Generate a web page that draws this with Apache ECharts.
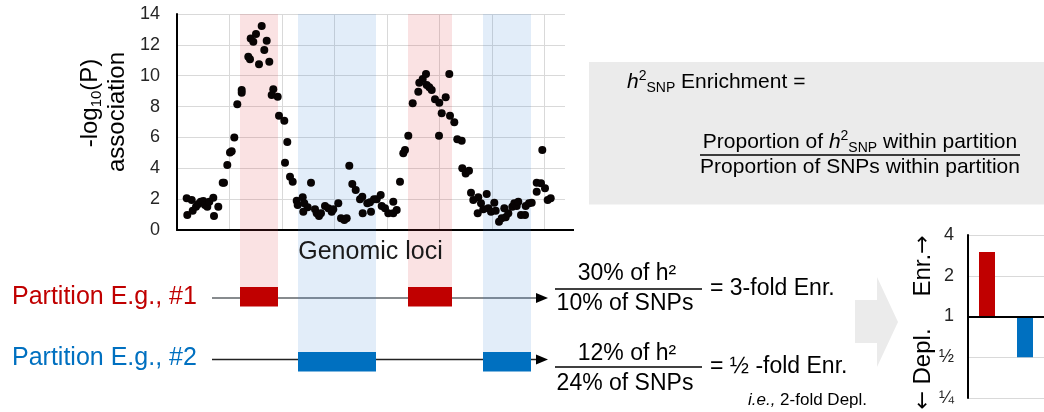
<!DOCTYPE html>
<html><head><meta charset="utf-8">
<script src="https://cdn.jsdelivr.net/npm/echarts@6/dist/echarts.min.js"></script>
<style>html,body{margin:0;padding:0;background:#fff}#c{width:1044px;height:412px}</style>
</head><body><div id="c"></div>
<script>
const FONT = "'Liberation Sans', Arial, Helvetica, sans-serif";
const ARROW_FONT = "'DejaVu Sans', sans-serif";

// ---- scatter data: locus position (arbitrary units) and -log10(P)
const locusX = [9.7,10.3,14.7,15.7,19,21.3,23.7,26.3,28,30.3,
32.3,36.3,37,41.3,45.7,47,50.3,53,54.7,57.3,
60.3,64.7,64.7,71.3,73,73.7,76.3,79,82,84.7,
87.3,89.7,92.3,96.3,94.7,100.7,102,107.3,110.3,108,
113,115.7,119.7,120.7,125.7,127.3,126.3,130.7,134,138,
139.7,142,144,148,151.3,154.7,156.3,161.3,164,167.3,
169.7,172.3,175.3,178.7,183,185.3,185.7,190.3,193,194,
197,199.7,203.7,204.7,208,211.3,216.3,216.3,219.7,223,
226.3,228,231.3,235.7,241.3,242.3,245.7,249,249.7,252.3,
254.7,258,262.3,262,264.7,268.7,272.3,273,277.3,280.3,
284.7,285.3,288.7,292,294,296.3,301.3,300.7,304,
306.3,309.7,311.3,314,317.3,318.7,322,324.7,327.3,328.7,
331.3,335.3,337.3,339.7,341.3,344,348,348.7,352,354.7,
359.7,359.7,364,365.3,368,370.7,373.7];
const negLogP = [2.05,0.97,1.94,1.25,1.51,1.68,1.83,1.88,1.62,1.51,
1.83,2.09,0.91,1.51,3.07,3.07,4.21,5.03,5.1,6.0,
8.15,9.07,8.9,11.23,11.06,12.42,12.2,12.7,10.74,13.22,
11.67,12.27,10.91,9.12,8.75,8.64,7.41,7.08,5.7,4.36,
3.45,3.13,1.9,1.62,2.12,1.73,1.19,1.47,3.07,1.34,
1.08,0.91,1.08,1.56,1.41,1.19,1.34,1.73,0.76,0.65,
0.76,4.17,2.98,2.59,1.99,2.16,1.08,1.73,1.8,1.19,
1.99,2.0,2.27,1.56,1.41,1.08,1.83,1.08,1.3,3.13,
4.97,5.18,6.11,8.21,8.96,9.55,9.79,10.11,9.4,9.25,
9.07,8.47,8.25,6.11,7.56,8.6,10.11,7.41,6.98,5.88,
5.79,4.0,3.67,3.84,2.42,1.94,2.12,1.08,1.73,
1.34,2.33,1.41,1.19,1.77,1.25,0.54,0.76,1.41,0.82,
1.08,1.51,1.73,1.56,1.83,0.97,0.97,1.56,1.73,1.77,
3.07,2.48,3.03,5.18,2.7,1.94,2.05];
const yTickInterval = 2;
const yMax = 14;
const locusMax = 388;
const locusGridStep = 52.5;

// ---- partitions (regions along the loci axis)
const partition1Regions = [[63,101],[231,275]];
const partition2Regions = [[121,199],[306,354]];
const partitionNames = ['Partition E.g., #1','Partition E.g., #2'];

// ---- enrichment bar chart
const enrichmentCategories = ['#1','#2'];
const enrichmentValues = [3, 0.5];
const enrichmentTickLabels = {'-2':'¼','-1':'½','0':'1','1':'2','2':'4'};

// ---- styles
const partitionColors = ['#c00000','#0070c0'];
const bandColors = ['rgba(220,60,70,0.15)','rgba(50,130,210,0.14)'];
const ROW_TOP = [287, 352];
const ROW_H = 19.5;

const scatterData = locusX.map((x,i)=>[x, negLogP[i]]);
const regionData = [];
partition1Regions.forEach(r=>regionData.push([r[0], r[1], 0]));
partition2Regions.forEach(r=>regionData.push([r[0], r[1], 1]));

function txt(x, y, text, o) {
  o = o || {};
  return {
    type:'text', x:x, y:y, rotation:o.rotation||0, z:10, silent:true,
    style: Object.assign({
      text:text, fontFamily:FONT, fontSize:o.fontSize||23, fill:o.fill||'#000',
      align:o.align||'left', verticalAlign:'middle'
    }, o.style||{})
  };
}
function hline(x1, x2, y, color, w) {
  return {type:'line', z:10, silent:true, shape:{x1:x1,y1:y,x2:x2,y2:y}, style:{stroke:color||'#000', lineWidth:w||1.5}};
}
function arrowHead(tipX, y) {
  return {type:'polygon', z:10, silent:true, shape:{points:[[tipX-12,y-5],[tipX,y],[tipX-12,y+5]]}, style:{fill:'#000'}};
}

const fracRich = {
  i:{fontStyle:'italic', fontSize:21, lineHeight:26, fontFamily:FONT},
  n:{fontSize:21, lineHeight:26, fontFamily:FONT},
  sup:{fontSize:14, lineHeight:20, verticalAlign:'top', fontFamily:FONT},
  sub:{fontSize:14, lineHeight:14, verticalAlign:'bottom', fontFamily:FONT}
};

const graphics = [
  // partition track lines (under the rectangles)
  {type:'line', z:1, silent:true, shape:{x1:212,y1:298,x2:540,y2:298}, style:{stroke:'#5f6468', lineWidth:1.5}},
  {type:'line', z:1, silent:true, shape:{x1:212,y1:359.5,x2:540,y2:359.5}, style:{stroke:'#222', lineWidth:1.5}},
  arrowHead(548, 298),
  arrowHead(548, 359.5),
  // small overshoot of the loci axis line
  hline(564, 574, 230, '#000', 2),
  // y title
  txt(90, 103, '{n|-log}{sub|10}{n|(P)}', {rotation:Math.PI/2, align:'center', style:{rich:{
    n:{fontSize:24, lineHeight:28, fontFamily:FONT, fill:'#000'},
    sub:{fontSize:15, lineHeight:15, verticalAlign:'bottom', fontFamily:FONT, fill:'#000'}}}}),
  txt(117, 112, 'association', {rotation:Math.PI/2, align:'center', fontSize:24}),
  txt(370.5, 252, 'Genomic loci', {align:'center', fontSize:25, fill:'#1a1a1a'}),
  txt(12, 297, partitionNames[0], {fontSize:25, fill:partitionColors[0]}),
  txt(12, 358, partitionNames[1], {fontSize:25, fill:partitionColors[1]}),
  // fractions row 1
  txt(627, 274, '30% of h²', {align:'center'}),
  hline(555, 702, 289, '#000', 1.5),
  txt(625, 303.5, '10% of SNPs', {align:'center'}),
  txt(710, 289, '= 3-fold Enr.'),
  // fractions row 2
  txt(627, 354, '12% of h²', {align:'center'}),
  hline(555, 702, 367, '#000', 1.5),
  txt(625, 384, '24% of SNPs', {align:'center'}),
  txt(710, 367, '= ½ -fold Enr.'),
  txt(748, 400, '{it|i.e.,}{n| 2-fold Depl.}', {style:{rich:{
    it:{fontStyle:'italic', fontSize:17, fontFamily:FONT, fill:'#000'},
    n:{fontSize:17, fontFamily:FONT, fill:'#000'}}}}),
  // grey box with formula
  {type:'rect', z:0, silent:true, shape:{x:589, y:62, width:455, height:142.5}, style:{fill:'#ebebeb'}},
  txt(627, 82, '{i|h}{sup|2}{sub|SNP}{n| Enrichment =}', {style:{rich:fracRich}}),
  txt(860, 142, '{n|Proportion of }{i|h}{sup|2}{sub|SNP}{n| within partition}', {align:'center', style:{rich:fracRich}}),
  hline(700, 1020, 155, '#000', 1.5),
  txt(860, 167, 'Proportion of SNPs within partition', {align:'center', fontSize:21}),
  // grey block arrow
  {type:'polygon', z:0, silent:true, shape:{points:[[855,300],[877,300],[877,277],[898,322],[877,367],[877,343],[855,343]]}, style:{fill:'#ebebeb'}},
  // bar chart titles
  txt(923, 266, '{t|Enr.}{a|→}', {rotation:Math.PI/2, align:'center', style:{rich:{
    t:{fontSize:24, fontFamily:FONT, fill:'#000'},
    a:{fontSize:22, fontFamily:ARROW_FONT, fill:'#000'}}}}),
  txt(923, 369, '{a|←}{t| Depl.}', {rotation:Math.PI/2, align:'center', style:{rich:{
    t:{fontSize:24, fontFamily:FONT, fill:'#000'},
    a:{fontSize:22, fontFamily:ARROW_FONT, fill:'#000'}}}})
];

const option = {
  animation:false,
  textStyle:{fontFamily:FONT},
  grid:[
    {left:177, top:14, width:388, height:216, containLabel:false, outerBoundsMode:'none'},
    {left:968, top:235, width:76, height:163, containLabel:false, outerBoundsMode:'none'}
  ],
  xAxis:[
    {type:'value', gridIndex:0, min:0, max:locusMax, interval:locusGridStep,
     axisLine:{show:true, onZero:false, lineStyle:{color:'#000', width:2}},
     axisTick:{show:false}, axisLabel:{show:false},
     splitLine:{show:true, showMinLine:false, showMaxLine:false, lineStyle:{color:'#d9d9d9', width:1}}},
    {type:'category', gridIndex:1, data:enrichmentCategories,
     axisLine:{show:false}, axisTick:{show:false}, axisLabel:{show:false}, splitLine:{show:false}}
  ],
  yAxis:[
    {type:'value', gridIndex:0, min:0, max:yMax, interval:yTickInterval,
     axisLine:{show:true, onZero:false, lineStyle:{color:'#000', width:2}},
     axisTick:{show:false},
     axisLabel:{fontSize:18, color:'#262626', margin:17, fontFamily:FONT},
     splitLine:{show:true, lineStyle:{color:'#d9d9d9', width:1}}},
    {type:'log', logBase:2, gridIndex:1, min:0.25, max:4, splitNumber:4,
     axisLine:{show:true, onZero:false, lineStyle:{color:'#000', width:2}},
     axisTick:{show:false},
     axisLabel:{fontSize:18, color:'#262626', margin:14, fontFamily:FONT,
       formatter:function(v){ return enrichmentTickLabels[String(Math.round(Math.log2(v)))] || ''; }},
     splitLine:{show:true, lineStyle:{color:'#d9d9d9', width:1}}}
  ],
  series:[
    {type:'custom', name:'partitions', xAxisIndex:0, yAxisIndex:0, clip:false, silent:true, z:2,
     dimensions:['start','end','partition'], encode:{x:[0,1], y:2},
     data:regionData,
     renderItem:function(params, api){
       const x0 = api.coord([api.value(0), 0])[0];
       const x1 = api.coord([api.value(1), 0])[0];
       const top = api.coord([0, yMax])[1];
       const p = api.value(2);
       return {type:'group', children:[
         {type:'rect', shape:{x:x0, y:top, width:x1-x0, height:ROW_TOP[p]-top}, style:{fill:bandColors[p]}},
         {type:'rect', shape:{x:x0, y:ROW_TOP[p], width:x1-x0, height:ROW_H}, style:{fill:partitionColors[p]}}
       ]};
     }},
    {type:'scatter', name:'association', xAxisIndex:0, yAxisIndex:0, z:3, silent:true,
     symbolSize:8, itemStyle:{color:'#080404', opacity:1}, data:scatterData},
    {type:'bar', name:'enrichment', xAxisIndex:1, yAxisIndex:1, barWidth:16, silent:true,
     data:enrichmentValues.map((v,i)=>({value:v, itemStyle:{color:partitionColors[i]}})),
     markLine:{silent:true, symbol:['none','none'], label:{show:false},
       lineStyle:{color:'#000', width:2, type:'solid'}, data:[{yAxis:1}]}}
  ],
  graphic:{elements:graphics}
};

const chart = echarts.init(document.getElementById('c'), null, {renderer:'canvas'});
chart.setOption(option);
</script>
</body></html>
